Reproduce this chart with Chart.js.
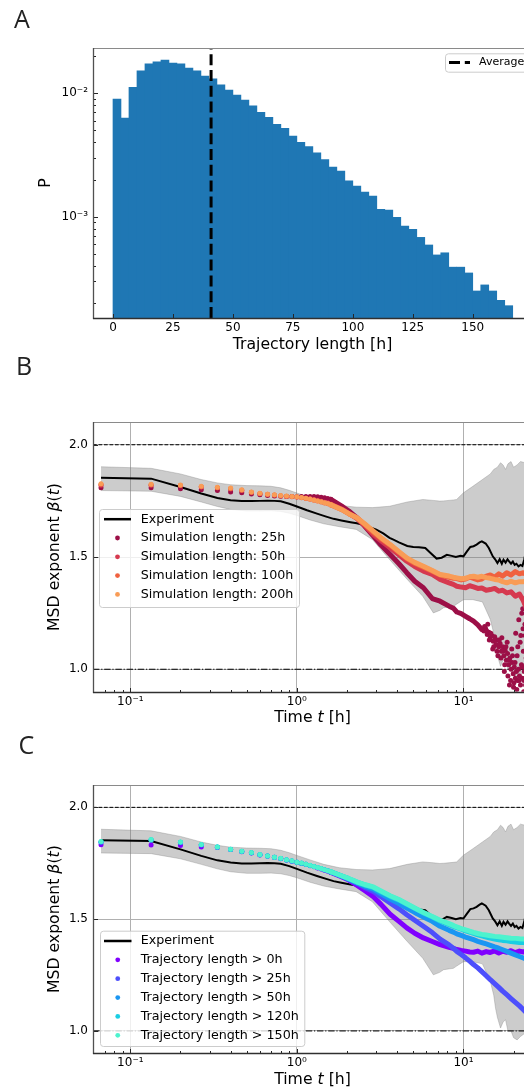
<!DOCTYPE html>
<html><head><meta charset="utf-8">
<script src="https://cdn.jsdelivr.net/npm/chart.js"></script>
<style>
html,body{margin:0;padding:0;background:#fff;overflow:hidden;width:524px;height:1090px;}
#wrap{position:relative;width:524px;height:1090px;overflow:hidden;background:#fff;}
canvas{position:absolute;left:0;}
.lbl{position:absolute;font-family:"Open Sans","DejaVu Sans",sans-serif;font-size:25px;line-height:1;color:#222;z-index:5;}
</style></head>
<body><div id="wrap">
<canvas id="cA" width="560" height="360" style="top:0px"></canvas>
<canvas id="cB" width="560" height="380" style="top:350px"></canvas>
<canvas id="cC" width="560" height="360" style="top:730px"></canvas>
<div class="lbl" style="left:14px;top:5.5px">A</div>
<div class="lbl" style="left:16px;top:353px">B</div>
<div class="lbl" style="left:18.5px;top:732px">C</div>
</div>
<script>
// ================= DATA =================
// Panel A: histogram of trajectory lengths (bin centres in h, probability)
const HIST_BIN_CENTERS = [1.67, 5.0, 8.33, 11.67, 15.0, 18.33, 21.67, 25.0, 28.33, 31.67, 35.0, 38.33, 41.67, 45.0, 48.33, 51.67, 55.0, 58.33, 61.67, 65.0, 68.33, 71.67, 75.0, 78.33, 81.67, 85.0, 88.33, 91.67, 95.0, 98.33, 101.67, 105.0, 108.33, 111.67, 115.0, 118.33, 121.67, 125.0, 128.33, 131.67, 135.0, 138.33, 141.67, 145.0, 148.33, 151.67, 155.0, 158.33, 161.67, 165.0];
const HIST_P = [0.0090, 0.0063, 0.0112, 0.0152, 0.0173, 0.0180, 0.0186, 0.0176, 0.0173, 0.0160, 0.0152, 0.0138, 0.0131, 0.0117, 0.0106, 0.0097, 0.0088, 0.0079, 0.0070, 0.0064, 0.0056, 0.0052, 0.0045, 0.0040, 0.0037, 0.0033, 0.0029, 0.00252, 0.00234, 0.00195, 0.00177, 0.00158, 0.00147, 0.00115, 0.00113, 0.00099, 0.00084, 0.00079, 0.00068, 0.00059, 0.00049, 0.00051, 0.00039, 0.00039, 0.00035, 0.00025, 0.00028, 0.00025, 0.00021, 0.00019];
const AVG_LENGTH = 40.9;
const A_LEGEND = ['Average'];
const A_X_TICKS = [0, 25, 50, 75, 100, 125, 150];
const A_Y_TICKS = [2e-4, 3e-4, 4e-4, 5e-4, 6e-4, 7e-4, 8e-4, 9e-4, 1e-3, 2e-3, 3e-3, 4e-3, 5e-3, 6e-3, 7e-3, 8e-3, 9e-3, 1e-2, 2e-2];
const A_X_MIN = -8.33, A_X_MAX = 174.7, A_Y_MIN = 1.51e-4, A_Y_MAX = 0.0233;

// Panels B and C: MSD exponent vs time
const T_SPARSE = [0.0667, 0.1333, 0.2, 0.2667, 0.3333, 0.4, 0.4667, 0.5333, 0.6, 0.6667, 0.7333, 0.8, 0.8667, 0.9333, 1.0, 1.0667, 1.1333, 1.2, 1.2667, 1.3333, 1.4, 1.4667, 1.5333, 1.6];
const T_DENSE = [1.6, 1.85, 2.05, 2.29, 2.55, 2.88, 3.2, 3.63, 4.1, 4.57, 5.1, 5.75, 6.5, 7.24, 8.2, 8.7, 9.12, 9.7, 10.3, 10.9, 11.5, 12.2, 12.9, 13.7, 14.5, 15.4, 16.3, 17.2, 18.2, 19.3, 20.5, 21.7, 22.9, 24.2, 25.5];

const T_EXP = [0.0667, 0.1333, 0.2, 0.2667, 0.3333, 0.4, 0.4667, 0.5333, 0.6, 0.6667, 0.7333, 0.8, 0.9, 1.0, 1.15, 1.32, 1.5, 1.66, 1.85, 2.1, 2.29, 2.5, 2.84, 3.0, 3.3, 3.6, 3.8, 4.1, 4.6, 5.0, 5.4, 5.9, 6.3, 6.9, 7.4, 7.95, 8.5, 9.0, 9.6, 10.0, 10.5, 11.0, 11.5, 12.0, 12.5, 12.9, 13.6, 14.2, 15.0, 15.5, 16.0, 16.5, 17.0, 17.4, 17.9, 18.4, 18.8, 19.3, 19.8, 20.3, 20.8, 21.4, 22.0, 22.6, 23.2, 23.6, 24.2, 25.0, 25.8];
const EXP_BETA = [1.853, 1.849, 1.812, 1.783, 1.763, 1.753, 1.749, 1.749, 1.750, 1.751, 1.750, 1.748, 1.737, 1.725, 1.708, 1.693, 1.680, 1.670, 1.663, 1.655, 1.650, 1.643, 1.628, 1.622, 1.605, 1.585, 1.577, 1.565, 1.549, 1.545, 1.543, 1.540, 1.520, 1.493, 1.497, 1.510, 1.505, 1.500, 1.505, 1.503, 1.525, 1.545, 1.548, 1.555, 1.565, 1.570, 1.560, 1.540, 1.503, 1.490, 1.473, 1.490, 1.470, 1.488, 1.475, 1.490, 1.480, 1.470, 1.480, 1.465, 1.470, 1.458, 1.465, 1.460, 1.490, 1.518, 1.530, 1.545, 1.550];

const T_BAND = [0.0667, 0.1333, 0.2, 0.2667, 0.3333, 0.4, 0.5, 0.6, 0.7, 0.8, 0.9, 1.0, 1.2, 1.45, 1.8, 2.27, 2.84, 3.6, 4.6, 5.7, 6.6, 7.2, 7.6, 8.7, 9.1, 10.0, 11.4, 13.0, 14.5, 15.2, 15.6, 16.0, 16.7, 17.3, 17.9, 18.5, 19.3, 20.0, 21.0, 22.0, 23.4, 25.8];
const BAND_UPPER = [1.902, 1.895, 1.870, 1.845, 1.830, 1.822, 1.818, 1.817, 1.815, 1.808, 1.797, 1.785, 1.765, 1.745, 1.730, 1.722, 1.720, 1.726, 1.745, 1.756, 1.752, 1.749, 1.750, 1.754, 1.756, 1.786, 1.815, 1.845, 1.870, 1.890, 1.895, 1.900, 1.920, 1.910, 1.890, 1.915, 1.925, 1.900, 1.910, 1.925, 1.920, 1.910];
const BAND_LOWER = [1.796, 1.793, 1.770, 1.745, 1.725, 1.712, 1.705, 1.705, 1.706, 1.703, 1.695, 1.685, 1.665, 1.648, 1.635, 1.623, 1.578, 1.489, 1.400, 1.325, 1.251, 1.262, 1.274, 1.280, 1.290, 1.310, 1.310, 1.300, 1.222, 1.160, 1.100, 1.060, 1.013, 1.040, 1.050, 1.000, 1.000, 0.970, 0.960, 0.975, 0.990, 1.000];

const LOG_X_TICKS = [0.07, 0.08, 0.09, 0.1, 0.2, 0.3, 0.4, 0.5, 0.6, 0.7, 0.8, 0.9, 1, 2, 3, 4, 5, 6, 7, 8, 9, 10, 20];
const BETA_TICKS = [1.0, 1.5, 2.0];
const X_MIN = 0.0597, X_MAX = 25.8, BETA_MIN = 0.9, BETA_MAX = 2.1;
const REF_BALLISTIC = 2.0, REF_DIFFUSIVE = 1.0;
const EXP_LABEL = 'Experiment';

// Panel B series
const B_LABELS = ['Simulation length: 25h', 'Simulation length: 50h', 'Simulation length: 100h', 'Simulation length: 200h'];
const B_COLORS = ['#9c0f47', '#d6394f', '#f0613f', '#f99c56'];
const B25_SPARSE = [1.808, 1.808, 1.804, 1.799, 1.796, 1.790, 1.786, 1.781, 1.777, 1.774, 1.772, 1.771, 1.769, 1.769, 1.768, 1.769, 1.770, 1.770, 1.769, 1.768, 1.766, 1.764, 1.761, 1.757];
const B50_SPARSE = [1.820, 1.820, 1.818, 1.812, 1.808, 1.803, 1.796, 1.787, 1.782, 1.778, 1.775, 1.772, 1.770, 1.768, 1.767, 1.765, 1.762, 1.759, 1.756, 1.752, 1.748, 1.744, 1.740, 1.735];
const B100_SPARSE = [1.824, 1.822, 1.819, 1.813, 1.809, 1.805, 1.797, 1.788, 1.783, 1.779, 1.776, 1.773, 1.771, 1.769, 1.767, 1.764, 1.761, 1.757, 1.753, 1.749, 1.745, 1.741, 1.737, 1.732];
const B200_SPARSE = [1.826, 1.824, 1.821, 1.815, 1.811, 1.807, 1.799, 1.789, 1.784, 1.780, 1.777, 1.774, 1.772, 1.770, 1.768, 1.765, 1.762, 1.758, 1.754, 1.750, 1.746, 1.742, 1.738, 1.733];
const B25_DENSE = [1.757, 1.728, 1.705, 1.675, 1.638, 1.593, 1.553, 1.511, 1.470, 1.430, 1.392, 1.363, 1.315, 1.303, 1.281, 1.272, 1.255, 1.248, 1.236, 1.225, 1.214, 1.198, 1.177];
const B50_DENSE = [1.735, 1.714, 1.694, 1.672, 1.641, 1.600, 1.572, 1.541, 1.510, 1.481, 1.458, 1.437, 1.422, 1.400, 1.385, 1.378, 1.370, 1.366, 1.363, 1.372, 1.367, 1.360, 1.362, 1.352, 1.355, 1.360, 1.348, 1.352, 1.340, 1.345, 1.325, 1.335, 1.305, 1.260, 1.240];
const B100_DENSE = [1.732, 1.712, 1.693, 1.675, 1.645, 1.610, 1.582, 1.553, 1.520, 1.493, 1.472, 1.455, 1.437, 1.420, 1.410, 1.405, 1.404, 1.398, 1.402, 1.410, 1.405, 1.398, 1.402, 1.415, 1.420, 1.410, 1.425, 1.415, 1.430, 1.420, 1.435, 1.425, 1.430, 1.420, 1.425];
const B200_DENSE = [1.733, 1.712, 1.693, 1.675, 1.648, 1.615, 1.586, 1.556, 1.524, 1.496, 1.476, 1.459, 1.440, 1.422, 1.415, 1.410, 1.407, 1.403, 1.405, 1.412, 1.414, 1.410, 1.414, 1.408, 1.405, 1.400, 1.398, 1.390, 1.385, 1.392, 1.385, 1.390, 1.390, 1.395, 1.390];
const B25_CLOUD_T = [13.3, 13.6, 13.9, 14.2, 14.5, 14.8, 15.1, 15.4, 15.7, 16.0, 16.3, 16.6, 16.9, 17.2, 17.5, 17.8, 18.1, 18.4, 18.7, 19.0, 19.3, 19.6, 19.9, 20.2, 20.5, 20.8, 21.1, 21.4, 21.7, 22.0, 22.3, 22.6, 22.9, 23.2, 23.5, 23.8, 24.1, 24.4, 24.7, 25.0, 25.3, 14.0, 15.0, 16.1, 17.0, 17.6, 18.3, 18.9, 19.5, 20.0, 20.6, 21.0, 21.5, 21.9, 22.4, 22.8, 23.0, 23.3, 23.6, 13.4, 13.8, 14.3, 14.6, 15.2, 15.5, 15.9, 16.4, 16.8, 17.3, 17.7, 18.0, 18.5, 18.8, 19.2, 19.7, 20.1, 20.4, 20.9, 21.2, 21.6, 22.1, 22.5, 22.7, 23.1, 23.4, 23.7, 24.0, 24.5, 25.1];
const B25_CLOUD = [1.170, 1.180, 1.155, 1.165, 1.140, 1.150, 1.125, 1.145, 1.110, 1.130, 1.100, 1.115, 1.080, 1.100, 1.060, 1.085, 1.040, 1.070, 1.020, 1.050, 1.000, 1.030, 0.980, 1.010, 0.960, 0.990, 0.950, 1.000, 0.970, 0.930, 1.020, 0.960, 1.080, 0.990, 1.150, 1.050, 1.200, 1.100, 1.250, 1.150, 1.300, 1.200, 1.090, 1.060, 1.140, 0.990, 1.120, 0.930, 1.090, 0.920, 1.160, 1.060, 1.220, 1.120, 1.250, 1.180, 0.900, 1.300, 0.930, 1.190, 1.170, 1.130, 1.160, 1.100, 1.130, 1.080, 1.130, 1.050, 1.080, 1.020, 1.100, 0.970, 1.040, 0.950, 1.060, 0.940, 1.030, 0.910, 1.100, 0.950, 1.150, 1.010, 1.270, 0.950, 1.200, 1.320, 1.050, 1.280, 1.220];

// Panel C series
const C_LABELS = ['Trajectory length > 0h', 'Trajectory length > 25h', 'Trajectory length > 50h', 'Trajectory length > 120h', 'Trajectory length > 150h'];
const C_COLORS = ['#8000ff', '#4d4ffc', '#1a96f2', '#1acee3', '#4df3ce'];
const C0_SPARSE = [1.833, 1.832, 1.829, 1.823, 1.821, 1.811, 1.802, 1.796, 1.787, 1.781, 1.776, 1.770, 1.764, 1.759, 1.753, 1.749, 1.744, 1.739, 1.734, 1.729, 1.724, 1.719, 1.714, 1.709];
const C25_SPARSE = [1.844, 1.853, 1.843, 1.832, 1.822, 1.812, 1.803, 1.797, 1.788, 1.782, 1.777, 1.771, 1.765, 1.760, 1.754, 1.750, 1.745, 1.740, 1.735, 1.730, 1.725, 1.720, 1.716, 1.711];
const C50_SPARSE = [1.845, 1.854, 1.844, 1.833, 1.823, 1.812, 1.803, 1.797, 1.788, 1.782, 1.777, 1.771, 1.765, 1.760, 1.754, 1.750, 1.745, 1.740, 1.735, 1.730, 1.725, 1.721, 1.716, 1.711];
const C120_SPARSE = [1.846, 1.855, 1.844, 1.833, 1.823, 1.813, 1.804, 1.797, 1.788, 1.782, 1.777, 1.771, 1.766, 1.760, 1.755, 1.750, 1.745, 1.740, 1.736, 1.731, 1.726, 1.721, 1.716, 1.712];
const C150_SPARSE = [1.847, 1.856, 1.845, 1.834, 1.823, 1.813, 1.804, 1.798, 1.789, 1.783, 1.777, 1.772, 1.766, 1.761, 1.755, 1.751, 1.746, 1.741, 1.736, 1.731, 1.726, 1.721, 1.717, 1.712];
const C0_DENSE = [1.709, 1.690, 1.675, 1.652, 1.628, 1.600, 1.566, 1.522, 1.490, 1.461, 1.437, 1.416, 1.400, 1.386, 1.374, 1.369, 1.364, 1.360, 1.357, 1.353, 1.352, 1.357, 1.348, 1.355, 1.351, 1.358, 1.349, 1.357, 1.352, 1.359, 1.350, 1.357, 1.353, 1.358, 1.355];
const C25_DENSE = [1.711, 1.692, 1.678, 1.661, 1.642, 1.624, 1.600, 1.572, 1.546, 1.520, 1.495, 1.468, 1.440, 1.411, 1.385, 1.370, 1.356, 1.342, 1.327, 1.312, 1.297, 1.282, 1.265, 1.247, 1.229, 1.212, 1.195, 1.178, 1.162, 1.145, 1.128, 1.112, 1.095, 1.077, 1.060];
const C50_DENSE = [1.711, 1.693, 1.679, 1.663, 1.648, 1.634, 1.613, 1.590, 1.570, 1.550, 1.530, 1.510, 1.490, 1.468, 1.450, 1.442, 1.434, 1.427, 1.420, 1.414, 1.408, 1.401, 1.395, 1.389, 1.383, 1.376, 1.370, 1.363, 1.356, 1.348, 1.340, 1.333, 1.326, 1.318, 1.310];
const C120_DENSE = [1.712, 1.694, 1.681, 1.666, 1.653, 1.641, 1.622, 1.602, 1.585, 1.567, 1.548, 1.528, 1.510, 1.492, 1.475, 1.468, 1.462, 1.455, 1.448, 1.442, 1.436, 1.430, 1.425, 1.420, 1.415, 1.411, 1.408, 1.405, 1.403, 1.400, 1.398, 1.396, 1.395, 1.393, 1.392];
const C150_DENSE = [1.712, 1.694, 1.682, 1.667, 1.655, 1.644, 1.626, 1.605, 1.588, 1.569, 1.550, 1.530, 1.512, 1.495, 1.480, 1.472, 1.465, 1.458, 1.452, 1.446, 1.441, 1.436, 1.432, 1.429, 1.426, 1.423, 1.421, 1.419, 1.417, 1.415, 1.414, 1.412, 1.411, 1.410, 1.410];

// ================= RENDERING =================
const FONT = '"DejaVu Sans", sans-serif';
Chart.defaults.font.family = FONT;
Chart.defaults.color = '#000';

function pts(xs, ys) { return ys.map((y, i) => ({ x: xs[i], y: y })); }
const SUP = { '-': '\u207b', '0': '\u2070', '1': '\u00b9', '2': '\u00b2', '3': '\u00b3', '4': '\u2074', '5': '\u2075', '6': '\u2076', '7': '\u2077', '8': '\u2078', '9': '\u2079' };
function pow10Label(v) {
  const l = Math.log10(v), e = Math.round(l);
  if (Math.abs(l - e) > 1e-6) return '';
  return '10' + String(e).split('').map(c => SUP[c]).join('');
}
function seg(ctx, x1, y1, x2, y2, color, w) {
  ctx.strokeStyle = color; ctx.lineWidth = w; ctx.beginPath(); ctx.moveTo(x1, y1); ctx.lineTo(x2, y2); ctx.stroke();
}
function roundRect(ctx, x, y, w, h, r) {
  ctx.beginPath();
  ctx.moveTo(x + r, y); ctx.lineTo(x + w - r, y); ctx.arcTo(x + w, y, x + w, y + r, r);
  ctx.lineTo(x + w, y + h - r); ctx.arcTo(x + w, y + h, x + w - r, y + h, r);
  ctx.lineTo(x + r, y + h); ctx.arcTo(x, y + h, x, y + h - r, r);
  ctx.lineTo(x, y + r); ctx.arcTo(x, y, x + r, y, r); ctx.closePath();
}
function drawLegend(ctx, L) {
  ctx.save();
  roundRect(ctx, L.x + 0.5, L.y + 0.5, L.w, L.h, 3);
  ctx.fillStyle = 'rgba(255,255,255,0.8)'; ctx.fill();
  ctx.strokeStyle = '#cccccc'; ctx.lineWidth = 1; ctx.stroke();
  L.rows.forEach((r, i) => {
    const y = L.y0 + i * L.dy;
    if (r.type === 'line') {
      ctx.setLineDash(r.dash || []); ctx.lineCap = 'butt';
      seg(ctx, L.hx0, y, L.hx1, y, r.color, r.lw);
      ctx.setLineDash([]);
    } else {
      ctx.fillStyle = r.color; ctx.beginPath(); ctx.arc((L.hx0 + L.hx1) / 2, y, 2.4, 0, Math.PI * 2); ctx.fill();
    }
    ctx.fillStyle = '#000'; ctx.font = L.font; ctx.textBaseline = 'middle'; ctx.textAlign = 'left';
    ctx.fillText(r.text, L.tx, y);
  });
  ctx.restore();
}
function drawRich(ctx, segs, cx, cy, rot, size) {
  ctx.save(); ctx.translate(cx, cy); ctx.rotate(rot);
  let w = 0;
  const ws = segs.map(s => { ctx.font = (s.it ? 'italic ' : '') + size + 'px ' + FONT; const m = ctx.measureText(s.t).width; w += m; return m; });
  let x = -w / 2; ctx.textBaseline = 'middle'; ctx.textAlign = 'left'; ctx.fillStyle = '#000';
  segs.forEach((s, i) => { ctx.font = (s.it ? 'italic ' : '') + size + 'px ' + FONT; ctx.fillText(s.t, x, 0); x += ws[i]; });
  ctx.restore();
}
function makeDecor(cfg) {
  return {
    id: 'decor',
    afterDatasetsDraw(chart) {
      const ctx = chart.ctx, ca = chart.chartArea, xs = chart.scales.x, ys = chart.scales.y;
      ctx.save(); ctx.setLineDash([]);
      const L = Math.round(ca.left) + 0.5, R = Math.round(ca.right) + 0.5, T = Math.round(ca.top) + 0.5, B = Math.round(ca.bottom) + 0.5;
      ctx.strokeStyle = '#262626'; ctx.lineWidth = 1; ctx.beginPath();
      xs.ticks.forEach(t => {
        const v = xs.getPixelForValue(t.value); if (v < ca.left - 0.5 || v > ca.right + 0.5) return;
        const p = Math.round(v) + 0.5, len = (t.label === '' ? 2.5 : 4.5);
        ctx.moveTo(p, B); ctx.lineTo(p, B - len);
      });
      ys.ticks.forEach(t => {
        const v = ys.getPixelForValue(t.value); if (v < ca.top - 0.5 || v > ca.bottom + 0.5) return;
        const p = Math.round(v) + 0.5, len = (t.label === '' ? 2.5 : 4.5);
        ctx.moveTo(L, p); ctx.lineTo(L + len, p);
      });
      ctx.stroke();
      seg(ctx, L, T, R + 2, T, '#8a8a8a', 1);
      seg(ctx, L, T - 0.5, L, B + 0.5, '#505050', 1.3);
      seg(ctx, L - 0.5, B, R + 2, B, '#303030', 1.5);
      if (cfg.legend) drawLegend(ctx, cfg.legend);
      const mid = (ca.left + ca.right) / 2, vmid = (ca.top + ca.bottom) / 2;
      drawRich(ctx, cfg.xTitle, mid, cfg.xTitleY, 0, 15.7);
      drawRich(ctx, cfg.yTitle, cfg.yTitleX, vmid, -Math.PI / 2, 15.7);
      ctx.restore();
    }
  };
}
const commonOpts = { responsive: false, animation: false, devicePixelRatio: 1, events: [] };

// ---------- Panel A ----------
new Chart(document.getElementById('cA'), {
  type: 'bar',
  data: { datasets: [
    { type: 'bar', data: pts(HIST_BIN_CENTERS, HIST_P), backgroundColor: '#1f77b4', borderWidth: 0, barPercentage: 1, categoryPercentage: 1, order: 2 },
    { type: 'line', data: [{ x: AVG_LENGTH, y: A_Y_MIN }, { x: AVG_LENGTH, y: A_Y_MAX }], borderColor: '#000', borderWidth: 3, borderDash: [11, 4.8], pointRadius: 0, order: 1 }
  ] },
  options: Object.assign({}, commonOpts, {
    layout: { padding: { top: 48, right: 28, left: 0, bottom: 0 }, autoPadding: false },
    plugins: { legend: { display: false }, tooltip: { enabled: false } },
    scales: {
      x: { type: 'linear', min: A_X_MIN, max: A_X_MAX, bounds: 'data', offset: false,
        afterBuildTicks: s => { s.ticks = A_X_TICKS.map(v => ({ value: v })); },
        afterFit: s => { s.height = 42; },
        grid: { display: false, drawTicks: false, tickLength: 0 }, border: { display: false },
        ticks: { autoSkip: false, maxRotation: 0, padding: 2.8, font: { size: 12 }, color: '#000' } },
      y: { type: 'logarithmic', min: A_Y_MIN, max: A_Y_MAX, bounds: 'data',
        afterBuildTicks: s => { s.ticks = A_Y_TICKS.map(v => ({ value: v })); },
        afterFit: s => { s.width = 93; },
        grid: { display: false, drawTicks: false, tickLength: 0 }, border: { display: false },
        ticks: { autoSkip: false, padding: 5, font: { size: 12 }, color: '#000', callback: v => pow10Label(v) } }
    }
  }),
  plugins: [makeDecor({
    legend: { x: 445, y: 53.3, w: 83, h: 18.4, hx0: 449, hx1: 470, tx: 479, y0: 62.5, dy: 0, font: '11px ' + FONT,
      rows: [{ type: 'line', dash: [11, 4.8], lw: 3, color: '#000', text: A_LEGEND[0] }] },
    xTitle: [{ t: 'Trajectory length [h]' }], xTitleY: 345,
    yTitle: [{ t: 'P' }], yTitleX: 46
  })]
});

// ---------- Panels B & C ----------
function msdChart(id, padTop, xH, sims, legend, xTitleY) {
  const ds = [
    { data: pts(T_BAND, BAND_UPPER), borderColor: 'rgba(128,128,128,0.35)', borderWidth: 1, backgroundColor: 'rgba(128,128,128,0.4)', fill: '+1', pointRadius: 0, order: 100 },
    { data: pts(T_BAND, BAND_LOWER), borderColor: 'rgba(128,128,128,0.35)', borderWidth: 1, fill: false, pointRadius: 0, order: 100 },
    { data: [{ x: X_MIN, y: REF_BALLISTIC }, { x: X_MAX, y: REF_BALLISTIC }], borderColor: '#000', borderWidth: 1, borderDash: [3.7, 1.8], pointRadius: 0, fill: false, order: 95 },
    { data: [{ x: X_MIN, y: REF_DIFFUSIVE }, { x: X_MAX, y: REF_DIFFUSIVE }], borderColor: '#000', borderWidth: 1, borderDash: [6.4, 1.8, 1.2, 1.8], pointRadius: 0, fill: false, order: 95 },
    { data: pts(T_EXP, EXP_BETA), borderColor: '#000', borderWidth: 2, pointRadius: 0, fill: false, order: 90 }
  ];
  sims.forEach((s, k) => {
    const order = 60 - k * 5;
    ds.push({ data: pts(T_SPARSE, s.sparse), showLine: false, pointRadius: 2.5, pointBorderWidth: 0, pointBackgroundColor: s.color, borderColor: s.color, fill: false, order: order });
    ds.push({ data: pts(T_DENSE, s.dense), borderColor: s.color, borderWidth: 5, borderCapStyle: 'round', borderJoinStyle: 'round', pointRadius: 0, fill: false, order: order });
    if (s.cloudT) ds.push({ data: pts(s.cloudT, s.cloud), showLine: false, pointRadius: 2.5, pointBorderWidth: 0, pointBackgroundColor: s.color, borderColor: s.color, fill: false, order: order });
  });
  return new Chart(document.getElementById(id), {
    type: 'line',
    data: { datasets: ds },
    options: Object.assign({}, commonOpts, {
      layout: { padding: { top: padTop, right: 28, left: 0, bottom: 0 }, autoPadding: false },
      plugins: { legend: { display: false }, tooltip: { enabled: false } },
      scales: {
        x: { type: 'logarithmic', min: X_MIN, max: X_MAX, bounds: 'data', offset: false,
          afterBuildTicks: s => { s.ticks = LOG_X_TICKS.map(v => ({ value: v })); },
          afterFit: s => { s.height = xH; },
          grid: { display: true, drawTicks: false, lineWidth: 1, color: c => (c.tick && pow10Label(c.tick.value) !== '') ? '#b0b0b0' : 'rgba(0,0,0,0)' },
          border: { display: false },
          ticks: { autoSkip: false, maxRotation: 0, padding: 2.6, font: { size: 12 }, color: '#000', callback: v => pow10Label(v) } },
        y: { type: 'linear', min: BETA_MIN, max: BETA_MAX, bounds: 'data',
          afterBuildTicks: s => { s.ticks = BETA_TICKS.map(v => ({ value: v })); },
          afterFit: s => { s.width = 93; },
          grid: { display: true, drawTicks: false, lineWidth: 1, color: '#b0b0b0' },
          border: { display: false },
          ticks: { autoSkip: false, padding: 5, font: { size: 12 }, color: '#000', callback: v => Number(v).toFixed(1) } }
      }
    }),
    plugins: [makeDecor({
      legend: legend,
      xTitle: [{ t: 'Time ' }, { t: 't', it: true }, { t: ' [h]' }], xTitleY: xTitleY,
      yTitle: [{ t: 'MSD exponent ' }, { t: '\u03b2', it: true }, { t: '(' }, { t: 't', it: true }, { t: ')' }], yTitleX: 55
    })]
  });
}

const bSims = [
  { color: B_COLORS[0], sparse: B25_SPARSE, dense: B25_DENSE, cloudT: B25_CLOUD_T, cloud: B25_CLOUD },
  { color: B_COLORS[1], sparse: B50_SPARSE, dense: B50_DENSE },
  { color: B_COLORS[2], sparse: B100_SPARSE, dense: B100_DENSE },
  { color: B_COLORS[3], sparse: B200_SPARSE, dense: B200_DENSE }
];
const bLegend = { x: 99, y: 159, w: 200, h: 98, hx0: 104, hx1: 131, tx: 140.7, y0: 169.2, dy: 18.8, font: '12.7px ' + FONT,
  rows: [{ type: 'line', lw: 2.5, color: '#000', text: EXP_LABEL }].concat(B_LABELS.map((t, i) => ({ type: 'dot', color: B_COLORS[i], text: t }))) };
msdChart('cB', 72.3, 38.3, bSims, bLegend, 368);

const cSims = [
  { color: C_COLORS[0], sparse: C0_SPARSE, dense: C0_DENSE },
  { color: C_COLORS[1], sparse: C25_SPARSE, dense: C25_DENSE },
  { color: C_COLORS[2], sparse: C50_SPARSE, dense: C50_DENSE },
  { color: C_COLORS[3], sparse: C120_SPARSE, dense: C120_DENSE },
  { color: C_COLORS[4], sparse: C150_SPARSE, dense: C150_DENSE }
];
const cLegend = { x: 100, y: 200.7, w: 204.3, h: 115.3, hx0: 104, hx1: 131.5, tx: 140.7, y0: 211, dy: 18.86, font: '12.7px ' + FONT,
  rows: [{ type: 'line', lw: 2.5, color: '#000', text: EXP_LABEL }].concat(C_LABELS.map((t, i) => ({ type: 'dot', color: C_COLORS[i], text: t }))) };
msdChart('cC', 55, 36.7, cSims, cLegend, 350);
</script>
</body></html>
